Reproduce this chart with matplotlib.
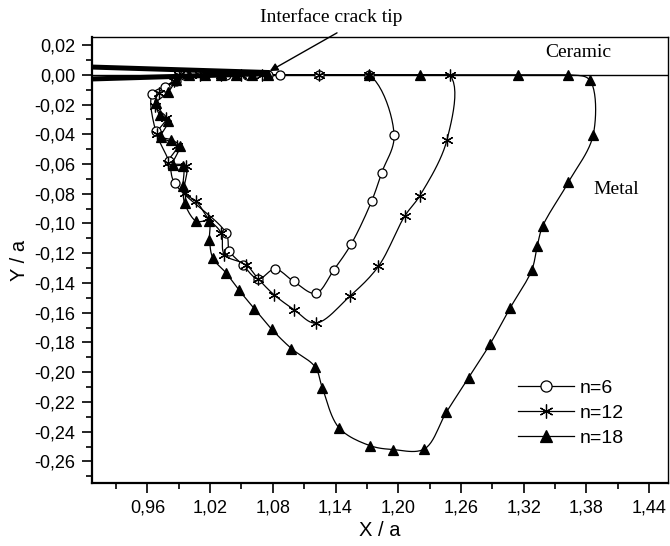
import numpy as np
import matplotlib
matplotlib.use('Agg')
import matplotlib.pyplot as plt
from matplotlib.ticker import FixedLocator, FuncFormatter

# plastic zone boundaries (X/a, Y/a)
n6_x = [0.9876, 0.9765, 0.9645, 0.968, 0.9806, 0.986, 1.0353, 1.0385, 1.0511, 1.0661,
        1.082, 1.0998, 1.121, 1.1385, 1.155, 1.1745, 1.184, 1.196,
        1.172, 1.124, 1.087, 1.075, 1.055, 1.035, 1.015, 0.995]
n6_y = [-0.0045, -0.0079, -0.013, -0.038, -0.0583, -0.0728, -0.1064, -0.1183, -0.1277, -0.1373,
        -0.1306, -0.1389, -0.147, -0.131, -0.1138, -0.085, -0.066, -0.0408,
        0.0, 0.0, 0.0, 0.0, 0.0, 0.0, 0.0, 0.0]

n12_x = [0.985, 0.971, 0.967, 0.978, 0.969, 0.988, 0.980, 0.997, 0.9956, 1.0067,
         1.0178, 1.0305, 1.0337, 1.0544, 1.0661, 1.0813, 1.1004, 1.121, 1.1535, 1.181,
         1.206, 1.2206, 1.2466,
         1.249, 1.172, 1.124, 1.07, 1.05, 1.03, 1.01, 0.99]
n12_y = [-0.004, -0.012, -0.021, -0.029, -0.040, -0.048, -0.059, -0.0616, -0.0795, -0.085,
         -0.0963, -0.1064, -0.121, -0.1277, -0.1373, -0.148, -0.158, -0.167, -0.149, -0.1288,
         -0.0952, -0.0813, -0.0437,
         0.0, 0.0, 0.0, 0.0, 0.0, 0.0, 0.0, 0.0]

n18_x = [0.9876, 0.9796, 0.9686, 0.9717, 0.9796, 0.9733, 0.9829, 0.9908, 0.9844, 0.994,
         0.994, 0.9956, 1.0067, 1.0187, 1.0194, 1.0226, 1.0353, 1.0473, 1.0623, 1.0788,
         1.0978, 1.1204, 1.1274, 1.1433, 1.1726, 1.1948, 1.225, 1.246, 1.2672, 1.288,
         1.307, 1.3276, 1.333, 1.338, 1.3626, 1.3865, 1.383,
         1.3626, 1.3149, 1.2206, 1.172, 1.075, 1.06, 1.045, 1.03, 1.015, 1.0]
n18_y = [-0.0034, -0.0119, -0.019, -0.0269, -0.0314, -0.0415, -0.0437, -0.048, -0.0605, -0.0616,
         -0.075, -0.0862, -0.0985, -0.0985, -0.1109, -0.1232, -0.1333, -0.1445, -0.1573, -0.171,
         -0.1841, -0.1964, -0.2106, -0.2374, -0.2493, -0.252, -0.2516, -0.2269, -0.2038, -0.1808,
         -0.1568, -0.1315, -0.115, -0.102, -0.0724, -0.0403, -0.0034,
         0.0, 0.0, 0.0, 0.0, 0.0, 0.0, 0.0, 0.0, 0.0, 0.0]

# crack faces (upper / lower) ending at the tip
crack_x = [0.907, 1.077]
crack_up = [0.0052, 0.0015]
crack_lo = [-0.0028, 0.0008]

x_ticks = [0.96, 1.02, 1.08, 1.14, 1.20, 1.26, 1.32, 1.38, 1.44]
y_ticks = [0.02, 0.00, -0.02, -0.04, -0.06, -0.08, -0.10, -0.12, -0.14,
           -0.16, -0.18, -0.20, -0.22, -0.24, -0.26]


def smooth(x, y, k=12):
    # centripetal Catmull-Rom through the points (scaled so x and y look alike on screen)
    sx, sy = 1049.0, 1488.0
    p = np.column_stack([np.asarray(x) * sx, np.asarray(y) * sy])
    p = np.vstack([2 * p[0] - p[1], p, 2 * p[-1] - p[-2]])
    out = []
    for i in range(1, len(p) - 2):
        P0, P1, P2, P3 = p[i - 1], p[i], p[i + 1], p[i + 2]
        t0 = 0.0
        t1 = t0 + max(np.linalg.norm(P1 - P0), 1e-6) ** 0.5
        t2 = t1 + max(np.linalg.norm(P2 - P1), 1e-6) ** 0.5
        t3 = t2 + max(np.linalg.norm(P3 - P2), 1e-6) ** 0.5
        t = np.linspace(t1, t2, k, endpoint=False)[:, None]
        A1 = (t1 - t) / (t1 - t0) * P0 + (t - t0) / (t1 - t0) * P1
        A2 = (t2 - t) / (t2 - t1) * P1 + (t - t1) / (t2 - t1) * P2
        A3 = (t3 - t) / (t3 - t2) * P2 + (t - t2) / (t3 - t2) * P3
        B1 = (t2 - t) / (t2 - t0) * A1 + (t - t0) / (t2 - t0) * A2
        B2 = (t3 - t) / (t3 - t1) * A2 + (t - t1) / (t3 - t1) * A3
        out.append((t2 - t) / (t2 - t1) * B1 + (t - t1) / (t2 - t1) * B2)
    out.append(p[-2:-1])
    c = np.vstack(out)
    return c[:, 0] / sx, np.minimum(c[:, 1] / sy, 0)


plt.rcParams['font.family'] = ['Liberation Sans', 'DejaVu Sans']
fig = plt.figure(figsize=(6.7, 5.46), dpi=100)
ax = fig.add_axes([0.1373, 0.1154, 0.8597, 0.8168])

ax.axhline(0, color='black', lw=1.0, zorder=2)

series = [(n6_x, n6_y, 'o', 6.5, 'white', 'n=6'),
          (n12_x, n12_y, (6, 2, 0), 8.5, 'black', 'n=12'),
          (n18_x, n18_y, '^', 7.5, 'black', 'n=18')]
for sx, sy, m, ms, fc, lab in series:
    cx, cy = smooth(sx, sy)
    ax.plot(cx, cy, color='black', lw=0.9, zorder=3)
    ax.plot(sx, sy, ls='none', marker=m, ms=ms, mfc=fc, mec='black', mew=0.9, zorder=4)
    ax.plot([], [], color='black', lw=0.9, marker=m, ms=ms + 1.5, mfc=fc, mec='black',
            mew=0.9, label=lab)

ax.plot(crack_x, crack_up, color='black', lw=3.6, solid_capstyle='butt', zorder=5)
ax.plot(crack_x, crack_lo, color='black', lw=3.6, solid_capstyle='butt', zorder=5)

ax.set_xlim(0.907, 1.458)
ax.set_ylim(-0.2745, 0.0254)

ax.xaxis.set_major_locator(FixedLocator(x_ticks))
ax.xaxis.set_minor_locator(FixedLocator([v - 0.03 for v in x_ticks] + [1.47]))
ax.yaxis.set_major_locator(FixedLocator(y_ticks))
ax.yaxis.set_minor_locator(FixedLocator([v - 0.01 for v in y_ticks]))
comma = FuncFormatter(lambda v, p: ('%.2f' % v).replace('.', ',').replace('-0,00', '0,00'))
ax.xaxis.set_major_formatter(comma)
ax.yaxis.set_major_formatter(comma)

ax.tick_params(which='major', direction='out', length=7, width=1.2, labelsize=13, pad=5)
ax.tick_params(which='minor', direction='out', length=4, width=1.2)
ax.tick_params(top=False, right=False)
for s in ['left', 'bottom']:
    ax.spines[s].set_linewidth(1.6)
for s in ['top', 'right']:
    ax.spines[s].set_linewidth(1.0)

ax.set_xlabel('X / a', fontsize=14.5, labelpad=3)
ax.set_ylabel('Y / a', fontsize=14.5, labelpad=4)

serif = ['Liberation Serif', 'DejaVu Serif']
ax.text(1.1356, 0.0385, 'Interface crack tip', family=serif, fontsize=14,
        ha='center', va='center', clip_on=False)
ax.annotate('', xy=(1.077, 0.0025), xytext=(1.1414, 0.0282), annotation_clip=False,
            arrowprops=dict(arrowstyle='-|>', color='black', lw=1.0,
                            mutation_scale=12, shrinkA=0, shrinkB=0))
ax.text(1.372, 0.0148, 'Ceramic', family=serif, fontsize=14, ha='center', va='center')
ax.text(1.408, -0.0773, 'Metal', family=serif, fontsize=14, ha='center', va='center')

ax.legend(loc='upper left', bbox_to_anchor=(0.773, 0.305), bbox_transform=fig.transFigure,
          frameon=False, fontsize=14, handlelength=2.9, handletextpad=0.3,
          labelspacing=0.38, borderpad=0, borderaxespad=0)

fig.savefig('out.png', dpi=100)
